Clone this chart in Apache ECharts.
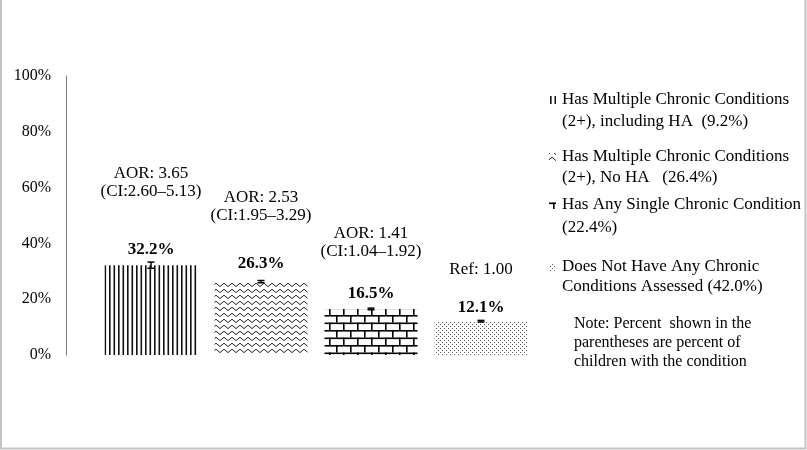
<!DOCTYPE html>
<html>
<head>
<meta charset="utf-8">
<script src="https://cdn.jsdelivr.net/npm/echarts@6/dist/echarts.min.js"></script>
<style>html,body{margin:0;padding:0;background:#fff}#c{width:807px;height:450px}</style>
</head>
<body>
<div id="c"></div>
<script>
// ---- data ----
var categories = ['Multiple incl. HA', 'Multiple, no HA', 'Any single', 'None'];
var percents = [32.2, 26.3, 16.5, 12.1];
var errLow = [31.1, 25.9, 16.2, 11.8];
var errHigh = [33.3, 26.7, 16.8, 12.4];
var aorLabels = ['AOR: 3.65\n(CI:2.60\u20135.13)', 'AOR: 2.53\n(CI:1.95\u20133.29)', 'AOR: 1.41\n(CI:1.04\u20131.92)', 'Ref: 1.00'];
var legendLines = [
  ['Has Multiple Chronic Conditions', '(2+), including HA  (9.2%)'],
  ['Has Multiple Chronic Conditions', '(2+), No HA   (26.4%)'],
  ['Has Any Single Chronic Condition', '(22.4%)'],
  ['Does Not Have Any Chronic', 'Conditions Assessed (42.0%)']
];
var noteLines = ['Note: Percent  shown in the', 'parentheses are percent of', 'children with the condition'];

// ---- layout / style ----
var FONT = '"Liberation Serif", "Times New Roman", serif';
var pctDist = [7, 10, 7, 5];
var aorLift = [83, 75, 66, 52];
var legendY = [[100, 122], [157, 178], [205, 228], [267, 287]];
var noteY = [324, 343, 362];

function mk(w, h, draw) {
  var c = document.createElement('canvas');
  c.width = w; c.height = h;
  var g = c.getContext('2d');
  g.fillStyle = '#fff'; g.fillRect(0, 0, w, h);
  draw(g);
  return c;
}
var patVert = mk(9, 10, function (g) {
  g.fillStyle = '#111';
  g.fillRect(1, 0, 1.6, 10);
  g.fillRect(5.5, 0, 1.6, 10);
});
var patZig = mk(8, 6, function (g) {
  g.strokeStyle = '#222'; g.lineWidth = 1;
  g.beginPath(); g.moveTo(0, 1.2); g.lineTo(4, 4.6); g.lineTo(8, 1.2); g.stroke();
});
var patBrick = mk(14, 15, function (g) {
  g.fillStyle = '#000';
  g.fillRect(0, 0, 14, 1.6);
  g.fillRect(0, 7.5, 14, 1.6);
  g.fillRect(0, 0, 1.6, 7.5);
  g.fillRect(7, 7.5, 1.6, 7.5);
});
var patDot = mk(4, 4, function (g) {
  g.fillStyle = '#555';
  g.fillRect(0, 0, 1, 1);
  g.fillRect(2, 2, 1, 1);
});
var pats = [patVert, patZig, patBrick, patDot];
function pat(i) { return { image: pats[i], repeat: 'repeat' }; }

var chart = echarts.init(document.getElementById('c'), null, { renderer: 'canvas' });

var graphics = [{
  type: 'rect', silent: true, z: -1,
  shape: { x: 1, y: -5, width: 804.5, height: 453.5 },
  style: { fill: 'none', stroke: '#c4c4c4', lineWidth: 2 }
}];
legendLines.forEach(function (lines, i) {
  graphics.push({
    type: 'rect', shape: { x: 549, y: legendY[i][0] - 4, width: 7, height: 8 },
    style: { fill: pat(i), stroke: null }
  });
  lines.forEach(function (t, j) {
    graphics.push({
      type: 'text', x: 562, y: legendY[i][j],
      style: { text: t, font: '17px ' + FONT, fill: '#000', textVerticalAlign: 'middle', verticalAlign: 'middle' }
    });
  });
});
noteLines.forEach(function (t, j) {
  graphics.push({
    type: 'text', x: 574, y: noteY[j],
    style: { text: t, font: '16px ' + FONT, fill: '#000', textVerticalAlign: 'middle', verticalAlign: 'middle' }
  });
});

var option = {
  animation: false,
  backgroundColor: '#fff',
  grid: { left: 96, right: 271, top: 76, bottom: 95 },
  xAxis: {
    type: 'category', data: categories,
    axisLine: { show: false }, axisTick: { show: false }, axisLabel: { show: false }
  },
  yAxis: {
    type: 'value', min: 0, max: 100, interval: 20, offset: 30,
    axisLine: { show: true, lineStyle: { color: '#7a7a7a', width: 1 } },
    axisTick: { show: false },
    splitLine: { show: false },
    axisLabel: { formatter: '{value}%', margin: 15, fontFamily: FONT, fontSize: 16, color: '#000' }
  },
  graphic: graphics,
  series: [{
    type: 'bar',
    barWidth: 93,
    data: percents.map(function (v, i) {
      return { value: v, itemStyle: { color: pat(i) }, label: { distance: pctDist[i] } };
    }),
    label: {
      show: true, position: 'top', formatter: '{c}%',
      fontFamily: FONT, fontSize: 17, fontWeight: 'bold', color: '#000'
    }
  }, {
    type: 'custom',
    z: 5,
    data: categories.map(function (c, i) { return [i, errLow[i], errHigh[i], percents[i]]; }),
    renderItem: function (params, api) {
      var i = api.value(0);
      var lo = api.coord([i, api.value(1)]);
      var hi = api.coord([i, api.value(2)]);
      var top = api.coord([i, api.value(3)]);
      var x = lo[0], cw = 3.5;
      var st = { stroke: '#000', lineWidth: 1.5 };
      return {
        type: 'group',
        children: [
          { type: 'line', shape: { x1: x, y1: lo[1], x2: x, y2: hi[1] }, style: st },
          { type: 'line', shape: { x1: x - cw, y1: lo[1], x2: x + cw, y2: lo[1] }, style: st },
          { type: 'line', shape: { x1: x - cw, y1: hi[1], x2: x + cw, y2: hi[1] }, style: st },
          {
            type: 'text', x: x, y: top[1] - aorLift[i],
            style: {
              text: aorLabels[i], font: '17px ' + FONT, fill: '#000',
              textAlign: 'center', align: 'center', textVerticalAlign: 'middle', verticalAlign: 'middle', lineHeight: 18
            }
          }
        ]
      };
    }
  }]
};
chart.setOption(option);
</script>
</body>
</html>
